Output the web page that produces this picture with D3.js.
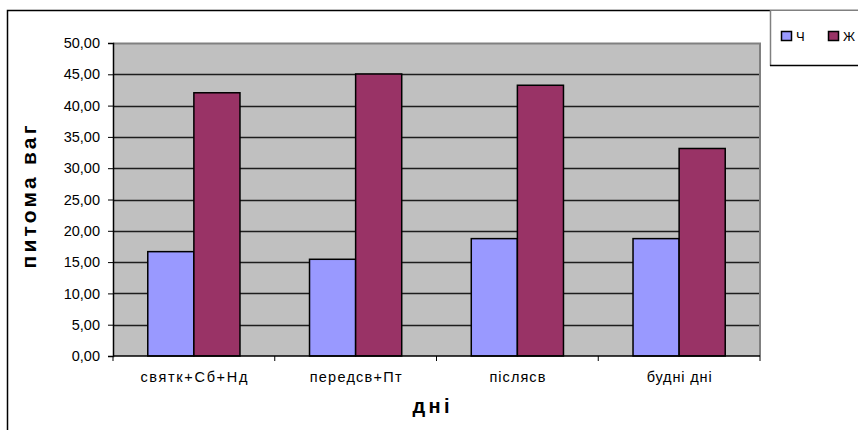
<!DOCTYPE html>
<html>
<head>
<meta charset="utf-8">
<script src="https://cdn.jsdelivr.net/npm/d3@7"></script>
<style>
  html, body { margin: 0; padding: 0; background: #fff; }
  svg { display: block; font-family: "Liberation Sans", Arial, sans-serif; }
</style>
</head>
<body>
<svg id="chart" width="858" height="430"></svg>
<script>
// Categories (days) and the two series (shares, %)
const categories = ["святк+Сб+Нд", "передсв+Пт", "післясв", "будні дні"];
const seriesNames = ["Ч", "Ж"];
const valuesCh = [16.67, 15.45, 18.75, 18.75];
const valuesZh = [42.05, 45.05, 43.25, 33.15];
const yTicks = [0, 5, 10, 15, 20, 25, 30, 35, 40, 45, 50];
const labelWidths = [107, 92, 56, 65];

const colors = { "Ч": "#9999FF", "Ж": "#993366" };

const svg = d3.select("#chart");

// Chart frame
svg.append("rect")
  .attr("x", 7.5).attr("y", 10.5)
  .attr("width", 880).attr("height", 440)
  .attr("fill", "#fff").attr("stroke", "#000").attr("stroke-width", 1.5);

const plot = { left: 113, right: 760, top: 43, bottom: 356 };

const x = d3.scaleBand().domain(categories).range([plot.left, plot.right]).padding(0);
const y = d3.scaleLinear().domain([0, 50]).range([plot.bottom, plot.top]);

// Plot area background
svg.append("rect")
  .attr("x", plot.left).attr("y", plot.top)
  .attr("width", plot.right - plot.left).attr("height", plot.bottom - plot.top)
  .attr("fill", "#C0C0C0");

// Horizontal gridlines
svg.append("g").selectAll("line")
  .data(yTicks.filter(d => d > 0 && d < 50))
  .join("line")
  .attr("x1", plot.left).attr("x2", plot.right)
  .attr("y1", d => Math.round(y(d)) + 0.5).attr("y2", d => Math.round(y(d)) + 0.5)
  .attr("stroke", "#000").attr("stroke-width", 1.5).attr("stroke-opacity", 0.85);

// Plot area top and right border
svg.append("path")
  .attr("d", `M${plot.left},${plot.top + 0.5}H${plot.right}V${plot.bottom}`)
  .attr("fill", "none").attr("stroke", "#808080").attr("stroke-width", 2);

// Bars
const groupW = x.bandwidth();
const barW = groupW * 0.285;
const data = categories.map((c, i) => ({ c, vals: [valuesCh[i], valuesZh[i]] }));
const g = svg.append("g");
data.forEach(d => {
  const cx = x(d.c) + groupW / 2;
  d.vals.forEach((v, k) => {
    g.append("rect")
      .attr("x", cx - barW + k * barW)
      .attr("y", y(v))
      .attr("width", barW)
      .attr("height", y(0) - y(v))
      .attr("fill", colors[seriesNames[k]])
      .attr("stroke", "#000").attr("stroke-width", 1.5);
  });
});

// Y axis
const yAxis = d3.axisLeft(y).tickValues(yTicks).tickSize(5).tickPadding(8)
  .tickFormat(d => d3.format(".2f")(d).replace(".", ","));
const ya = svg.append("g").attr("transform", `translate(${plot.left},0)`).call(yAxis);
ya.select(".domain").attr("stroke", "#000").attr("stroke-width", 1.5);
ya.selectAll(".tick line").attr("stroke", "#000");
ya.selectAll(".tick text").attr("font-size", 14.5).attr("fill", "#000")
  .attr("font-family", "'Liberation Sans', Arial, sans-serif");

// X axis with ticks at category boundaries
const xa = svg.append("g").attr("transform", `translate(0,${plot.bottom})`);
xa.append("line").attr("x1", plot.left).attr("x2", plot.right)
  .attr("stroke", "#000").attr("stroke-width", 1.5);
xa.selectAll(".bt").data(categories.concat(["end"]))
  .join("line").attr("class", "bt")
  .attr("x1", (d, i) => plot.left + i * groupW).attr("x2", (d, i) => plot.left + i * groupW)
  .attr("y1", 0).attr("y2", 5).attr("stroke", "#000");
xa.selectAll("text").data(categories).join("text")
  .attr("x", d => x(d) + groupW / 2)
  .attr("y", 25.5)
  .attr("text-anchor", "middle")
  .attr("font-size", 14.5)
  .attr("textLength", (d, i) => labelWidths[i])
  .attr("lengthAdjust", "spacing")
  .text(d => d);

// Axis titles
svg.append("text")
  .attr("transform", "translate(36,197) rotate(-90)")
  .attr("text-anchor", "middle")
  .attr("font-size", 21).attr("font-weight", "bold")
  .attr("textLength", 143).attr("lengthAdjust", "spacing")
  .text("питома ваг");

svg.append("text")
  .attr("x", 431).attr("y", 413)
  .attr("text-anchor", "middle")
  .attr("font-size", 20).attr("font-weight", "bold")
  .attr("textLength", 37).attr("lengthAdjust", "spacing")
  .text("дні");

// Legend
const lg = svg.append("g");
lg.append("rect").attr("x", 770).attr("y", 10.5).attr("width", 100).attr("height", 55.5)
  .attr("fill", "#fff").attr("stroke", "none");
lg.append("line").attr("x1", 770.5).attr("x2", 770.5).attr("y1", 10).attr("y2", 66)
  .attr("stroke", "#808080").attr("stroke-width", 1.5);
lg.append("line").attr("x1", 770).attr("x2", 858).attr("y1", 65.5).attr("y2", 65.5)
  .attr("stroke", "#000").attr("stroke-width", 1.5);
seriesNames.forEach((s, i) => {
  const lx = 781 + i * 47;
  lg.append("rect").attr("x", lx + 0.5).attr("y", 31.5).attr("width", 10).attr("height", 9)
    .attr("fill", colors[s]).attr("stroke", "#000").attr("stroke-width", 1.5);
  lg.append("text").attr("x", lx + 15).attr("y", 41)
    .attr("font-size", 13).text(s);
});
</script>
</body>
</html>
